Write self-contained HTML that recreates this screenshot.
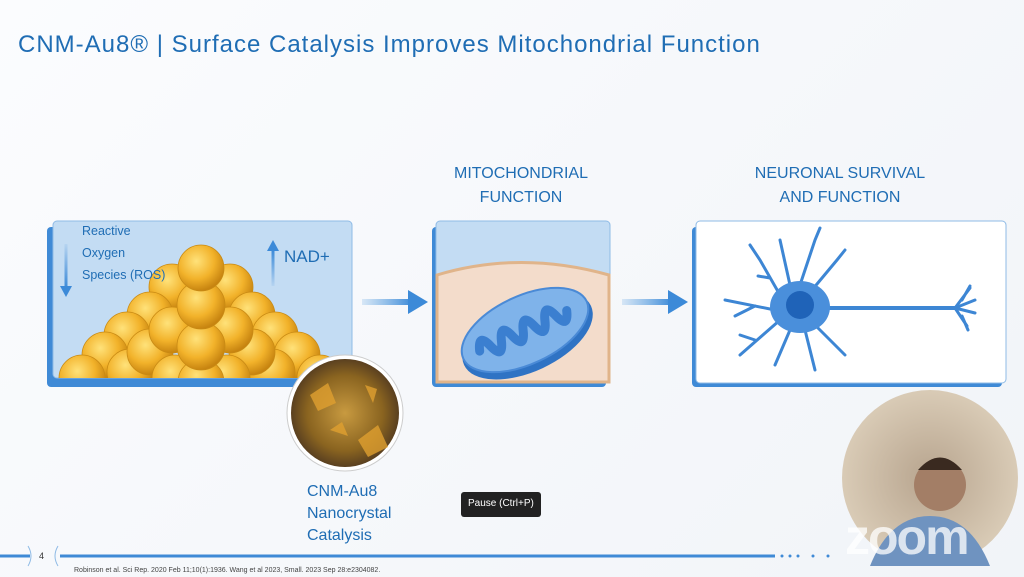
<!DOCTYPE html>
<html><head><meta charset="utf-8"><style>
html,body{margin:0;padding:0}
body{width:1024px;height:577px;overflow:hidden;background:linear-gradient(135deg,#fbfcfe,#f1f4f8);font-family:"Liberation Sans",sans-serif;position:relative}
.t{position:absolute;color:#1f6db4}
</style></head><body>
<svg width="1024" height="577" style="position:absolute;left:0;top:0">
<defs>
<radialGradient id="g" cx="40%" cy="35%" r="65%"><stop offset="0" stop-color="#ffe27a"/><stop offset="0.6" stop-color="#f2b22a"/><stop offset="1" stop-color="#c78410"/></radialGradient>
<clipPath id="c1"><rect x="53" y="221" width="299" height="157"/></clipPath>
<linearGradient id="ar" x1="0" x2="1" y1="0" y2="0"><stop offset="0" stop-color="#5aa0e0" stop-opacity="0.2"/><stop offset="1" stop-color="#3c8ad8"/></linearGradient>
<linearGradient id="av" x1="0" y1="1" x2="0" y2="0"><stop offset="0" stop-color="#3c8ad8" stop-opacity="0.1"/><stop offset="1" stop-color="#3c8ad8"/></linearGradient>
<linearGradient id="avd" x1="0" y1="0" x2="0" y2="1"><stop offset="0" stop-color="#3c8ad8" stop-opacity="0.1"/><stop offset="1" stop-color="#3c8ad8"/></linearGradient>
<radialGradient id="cr" cx="50%" cy="50%" r="50%"><stop offset="0" stop-color="#c89a40"/><stop offset="0.7" stop-color="#8a6420"/><stop offset="1" stop-color="#5a4020"/></radialGradient>
<radialGradient id="cam" cx="50%" cy="50%" r="50%"><stop offset="0" stop-color="#b7a48e"/><stop offset="1" stop-color="#d9cbb6"/></radialGradient>
</defs>
<rect x="47" y="227" width="300" height="160" rx="4" fill="#3f8ad6"/>
<rect x="53" y="221" width="299" height="157" rx="4" fill="#c3dcf3" stroke="#8fbbe6"/>
<g clip-path="url(#c1)">
<g fill="url(#g)" stroke="#c88a14" stroke-width="0.8">
<circle cx="172" cy="287" r="23"/><circle cx="230" cy="287" r="23"/>
<circle cx="150" cy="315" r="23"/><circle cx="252" cy="315" r="23"/>
<circle cx="127" cy="335" r="23"/><circle cx="275" cy="335" r="23"/>
<circle cx="105" cy="355" r="23"/><circle cx="297" cy="355" r="23"/>
<circle cx="82" cy="378" r="23"/><circle cx="320" cy="378" r="23"/>
<circle cx="130" cy="372" r="23"/><circle cx="272" cy="372" r="23"/>
<circle cx="150" cy="352" r="23"/><circle cx="252" cy="352" r="23"/>
<circle cx="172" cy="330" r="23"/><circle cx="230" cy="330" r="23"/>
<circle cx="175" cy="378" r="23"/><circle cx="227" cy="378" r="23"/>
<circle cx="201" cy="382" r="23"/>
<circle cx="201" cy="346" r="24"/><circle cx="201" cy="305" r="24"/><circle cx="201" cy="268" r="23"/>
</g></g>
<rect x="64.5" y="244" width="3" height="44" fill="url(#avd)"/>
<path d="M60 286 L66 297 L72 286Z" fill="#3c8ad8"/>
<rect x="271.5" y="250" width="3" height="36" fill="url(#av)"/>
<path d="M267 251 L273 240 L279 251Z" fill="#3c8ad8"/>
<rect x="362" y="299" width="50" height="6" fill="url(#ar)"/><path d="M408 290 L428 302 L408 314Z" fill="#3c8ad8"/>
<rect x="622" y="299" width="50" height="6" fill="url(#ar)"/><path d="M668 290 L688 302 L668 314Z" fill="#3c8ad8"/>
<rect x="432" y="227" width="174" height="160" rx="4" fill="#3f8ad6"/>
<rect x="436" y="221" width="174" height="162" rx="4" fill="#c3dcf3" stroke="#8fbbe6"/>
<path d="M437 275 Q520 250 609 275 V382 H437Z" fill="#f3dccb" stroke="#e0b48a" stroke-width="3"/>
<g transform="rotate(-25 525 330)">
<ellipse cx="525" cy="336" rx="70" ry="36" fill="#2f73c4"/>
<ellipse cx="525" cy="330" rx="68" ry="34" fill="#7fb3ea" stroke="#4a8ad6" stroke-width="2"/>
<path d="M475 330 q6 -18 12 0 q6 18 12 0 q6 -18 12 0 q6 18 12 0 q6 -18 12 0 q6 18 12 0 q6 -18 12 0 q6 18 12 0" fill="none" stroke="#3b7fd0" stroke-width="9" stroke-linecap="round"/>
</g>
<rect x="692" y="227" width="310" height="160" rx="4" fill="#3f8ad6"/>
<rect x="696" y="221" width="310" height="162" rx="4" fill="#fff" stroke="#8fbbe6"/>
<g stroke="#3d86d4" fill="none" stroke-linecap="round" stroke-width="3">
<path d="M830 308 H955" stroke-width="4"/>
<path d="M955 308 l15 -20 M955 308 l20 -8 M955 308 l20 5 M955 308 l12 18 M962 300 l8 -14 M962 316 l6 14"/>
<path d="M780 295 l-20 -35 l-10 -15 M770 278 l-12 -2 M790 285 l-10 -45 M800 285 l15 -45 l5 -12 M812 290 l25 -30 l8 -10 M775 310 l-50 -10 M755 306 l-20 10 M780 320 l-40 35 M790 330 l-15 35 M805 330 l10 40 M815 325 l30 30 M755 340 l-15 -5"/>
</g>
<ellipse cx="800" cy="307" rx="30" ry="26" fill="#4a8fdb"/>
<circle cx="800" cy="305" r="14" fill="#1f63b8"/>
<circle cx="345" cy="413" r="58" fill="#fff" stroke="#ccc"/>
<circle cx="345" cy="413" r="54" fill="url(#cr)"/>
<g fill="#e0a030" opacity="0.8"><path d="M310 395 l18 -12 l8 20 l-18 8z"/><path d="M358 440 l20 -15 l10 22 l-20 10z"/><path d="M330 430 l12 -8 l6 14z"/><path d="M365 385 l12 4 l-4 14z"/></g>
<path d="M0 556 H30 M60 556 H775" stroke="#3f8ad6" stroke-width="3"/>
<g fill="#3f8ad6"><circle cx="782" cy="556" r="1.5"/><circle cx="790" cy="556" r="1.5"/><circle cx="798" cy="556" r="1.5"/><circle cx="813" cy="556" r="1.5"/><circle cx="828" cy="556" r="1.5"/></g>
<path d="M28 546 q6 10 0 20 M58 546 q-6 10 0 20" stroke="#8fbbe6" fill="none"/>
<circle cx="930" cy="478" r="88" fill="url(#cam)"/>
<path d="M870 566 q20 -50 60 -50 q40 0 60 50Z" fill="#6f93c0"/>
<circle cx="940" cy="485" r="26" fill="#a37e66"/>
<path d="M918 470 q22 -25 44 0" fill="#3a2a20"/>
<rect x="461" y="492" width="80" height="25" rx="3" fill="#222"/>
</svg>
<div class="t" style="left:18px;top:31px;font-size:24px;letter-spacing:1px">CNM-Au8® | Surface Catalysis Improves Mitochondrial Function</div>
<div class="t" style="left:430px;top:162px;width:182px;text-align:center;font-size:16px;line-height:24px">MITOCHONDRIAL<br>FUNCTION</div>
<div class="t" style="left:730px;top:162px;width:220px;text-align:center;font-size:16px;line-height:24px">NEURONAL SURVIVAL<br>AND FUNCTION</div>
<div class="t" style="left:82px;top:220px;font-size:12.5px;line-height:22px">Reactive<br>Oxygen<br>Species (ROS)</div>
<div class="t" style="left:284px;top:247px;font-size:17px">NAD+</div>
<div class="t" style="left:307px;top:481px;font-size:16px;line-height:22px">CNM-Au8<br>Nanocrystal<br>Catalysis</div>
<div style="position:absolute;left:468px;top:498px;font-size:10px;color:#fff">Pause (Ctrl+P)</div>
<div style="position:absolute;left:39px;top:551px;font-size:9px;color:#333">4</div>
<div style="position:absolute;left:74px;top:567px;font-size:7px;color:#444">Robinson et al. Sci Rep. 2020 Feb 11;10(1):1936.  Wang et al 2023, Small. 2023 Sep 28:e2304082.</div>
<div style="position:absolute;left:845px;top:508px;font-size:50px;color:rgba(255,255,255,0.75);font-weight:bold;letter-spacing:-2px">zoom</div>
</body></html>
